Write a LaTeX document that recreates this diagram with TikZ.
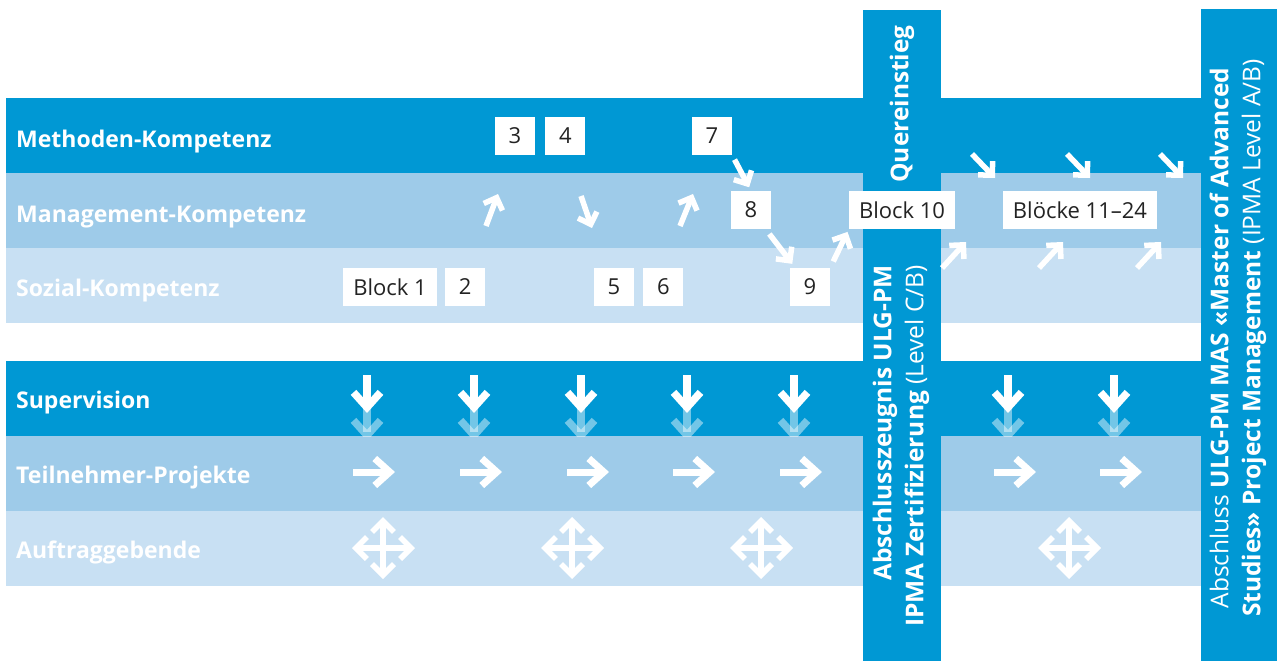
\documentclass[tikz,border=0pt]{standalone}
\usepackage{fontspec}
\setmainfont{Open Sans}
\usetikzlibrary{arrows.meta,positioning}
\definecolor{dbg}{RGB}{0,152,212}
\definecolor{mbg}{RGB}{158,203,233}
\definecolor{lbg}{RGB}{200,224,243}
\definecolor{btxt}{RGB}{35,35,35}
\tikzset{
	lbl/.style={anchor=base west, text=white, inner sep=0pt, font=\fontsize{23}{28}\selectfont\bfseries},
	bx/.style={fill=white, text=btxt, minimum width=40pt, minimum height=38pt, inner xsep=10pt, inner ysep=0pt, font=\fontsize{22}{26}\selectfont},
	arr/.style={white, line width=5.5pt, -{Straight Barb[length=10pt,width=20pt]}},
	sdown/.style={white, line width=7.5pt, -{Straight Barb[length=15pt,width=27pt]}},
	fwd/.style={white, line width=7pt, -{Straight Barb[length=15pt,width=27pt]}},
	xarr/.style={white, line width=5.5pt, {Straight Barb[length=11pt,width=22pt]}-{Straight Barb[length=11pt,width=22pt]}},
	vtxt/.style={rotate=90, text=white, inner sep=0pt, font=\fontsize{24.5}{32}\selectfont}
}

\begin{document}
\begin{tikzpicture}[x=1pt,y=-1pt]
	\useasboundingbox (0,0) rectangle (1277,661);
	\fill (6,98) rectangle (1201,173) [dbg];
	\fill (6,173) rectangle (1201,248) [mbg];
	\fill (6,248) rectangle (1201,323) [lbg];
	\fill (6,361) rectangle (1201,436) [dbg];
	\fill (6,436) rectangle (1201,511) [mbg];
	\fill (6,511) rectangle (1201,586) [lbg];
	\fill (863,10) rectangle (941,661) [dbg];
	\fill (1201,9) rectangle (1277,661) [dbg];

	\node[lbl] (lmeth) at (16,147) {Methoden-Kompetenz};
	\node[lbl] (lman) at (16,222) {Management-Kompetenz};
	\node[lbl] (lsoz) at (16,296) {Sozial-Kompetenz};
	\node[lbl] (lsup) at (16,408) {Supervision};
	\node[lbl] (lproj) at (16,483) {Teilnehmer-Projekte};
	\node[lbl] (lauf) at (16,558) {Auftraggebende};

	\node[bx] (b3) at (515,136) {3};
	\node[bx, right=10pt of b3] (b4) {4};
	\node[bx] (b7) at (712,136) {7};
	\node[bx] (b8) at (751,210) {8};
	\node[bx] (bl1) at (390,287) {Block 1};
	\node[bx, right=8pt of bl1] (b2) {2};
	\node[bx] (b5) at (614,287) {5};
	\node[bx, right=9pt of b5] (b6) {6};
	\node[bx] (b9) at (810,287) {9};
	\node[bx] (bl10) at (902,210) {Block 10};
	\node[bx] (bl11) at (1080,210) {Blöcke 11--24};

	\draw[arr, shorten <=5pt, shorten >=4pt] (b7.south east) -- (b8.north);
	\draw[arr, shorten <=6pt, shorten >=5pt] (b8) -- (b9);
	\draw[arr, shorten <=7pt, shorten >=3pt] (b9.north east) -- (bl10.south west);
	\draw[arr] (486,226) -- (498,194);
	\draw[arr] (581,196) -- (592,228);
	\draw[arr] (680,226) -- (693,194);
	\foreach \x in {972,1067,1160}
		\draw[arr] (\x,154) -- ++(23,24);
	\foreach \x in {942,1039,1137}
		\draw[arr] (\x,268) -- ++(24,-26);

	\begin{scope}
		\clip (6,361) rectangle (1201,436);
		\foreach \x in {367,474,581,687,794,1008,1114} {
			\draw[sdown, opacity=.45] (\x,400) -- (\x,441);
			\draw[sdown] (\x,375) -- (\x,413);
		}
	\end{scope}
	\foreach \x in {367,474,581,687,794,1008,1114}
		\draw[fwd] (\x-14,472) -- (\x+28,472);
	\foreach \x in {383,572,761,1069} {
		\draw[xarr] (\x-31,548) -- (\x+32,548);
		\draw[xarr] (\x,517) -- (\x,579);
	}

	\node[vtxt, anchor=east, font=\fontsize{24.5}{32}\selectfont\bfseries] (quer) at (902,25) {Quereinstieg};
	\node[vtxt, anchor=east, align=right] (ulg) at (901,265) {{\bfseries Abschlusszeugnis ULG-PM}\\{\bfseries IPMA Zertifizierung} (Level C/B)};
	\node[vtxt, align=center] (mas) at (1238,338) {Abschluss {\bfseries ULG-PM MAS «Master of Advanced}\\{\bfseries Studies» Project Management} (IPMA Level A/B)};
\end{tikzpicture}
\end{document}
